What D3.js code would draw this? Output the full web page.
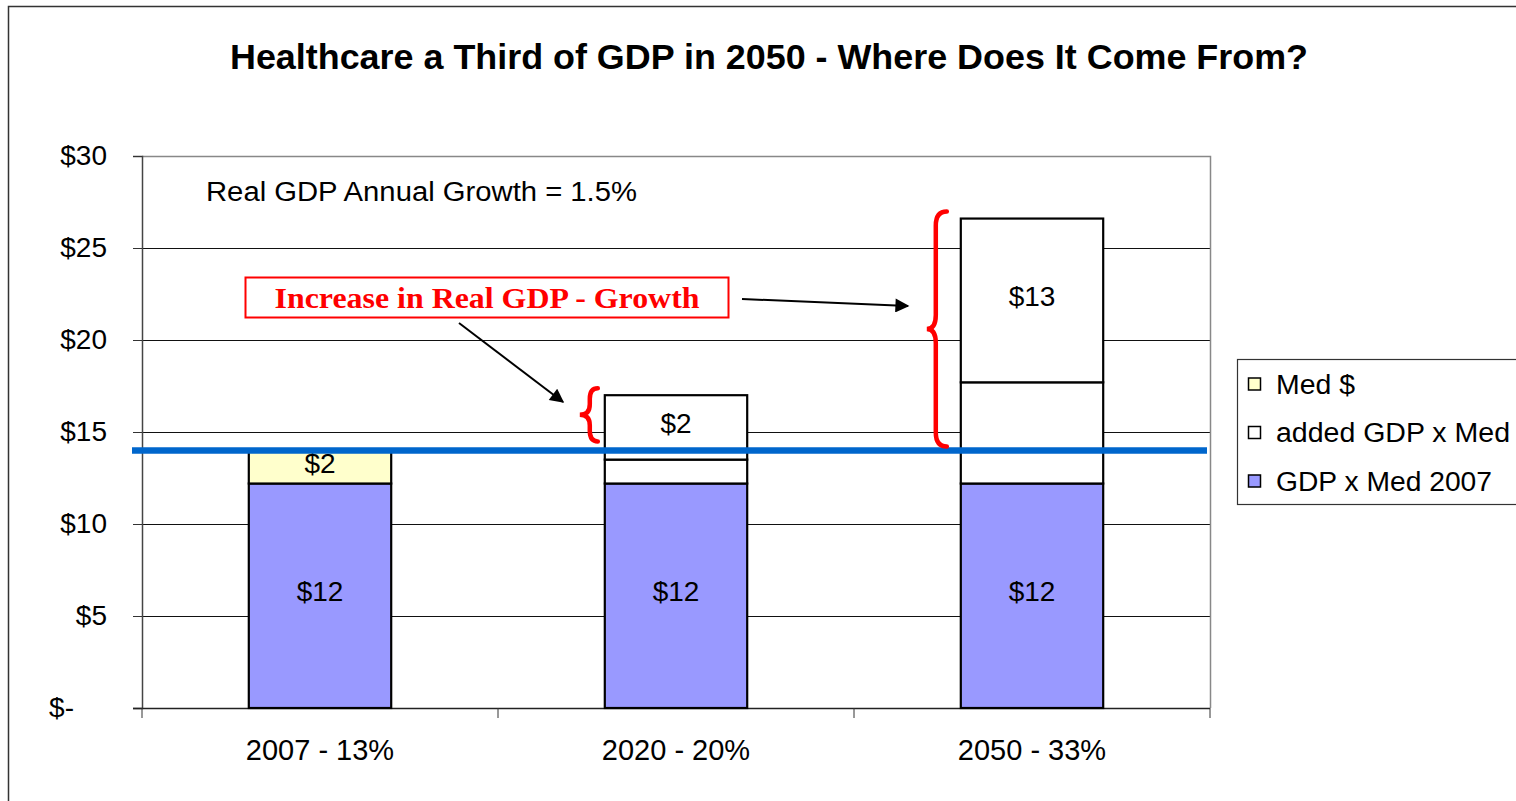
<!DOCTYPE html>
<html>
<head>
<meta charset="utf-8">
<script src="https://cdn.jsdelivr.net/npm/d3@7"></script>
<style>
  html, body { margin: 0; padding: 0; background: #fff; }
  svg { display: block; font-family: "Liberation Sans", Arial, sans-serif; }
</style>
</head>
<body>
<svg id="chart" width="1516" height="801"></svg>
<script>
// Categories and stacked series (trillions of dollars)
const categories = ["2007 - 13%", "2020 - 20%", "2050 - 33%"];
const gdpMed2007 = [12.2, 12.2, 12.2];   // GDP x Med 2007
const addedGdpMed = [0, 1.3, 5.5];       // added GDP x Med
const medDollars = [1.8, 0, 0];          // Med $
const growth = [0, 3.5, 8.9];            // increase from real GDP growth
const baseLevel = 14.0;                  // 2007 total, drawn as reference line

const segmentLabels = [
  ["$12", null, "$2", null],
  ["$12", null, null, "$2"],
  ["$12", null, null, "$13"]
];
const yTicks = [0, 5, 10, 15, 20, 25, 30];
const yTickLabels = ["$-", "$5", "$10", "$15", "$20", "$25", "$30"];

const seriesKeys = ["base", "added", "med", "growth"];
const seriesFill = { base: "#9999FF", added: "#FFFFFF", med: "#FFFFCC", growth: "#FFFFFF" };
const legendItems = [
  { name: "Med $", fill: "#FFFFCC" },
  { name: "added GDP x Med", fill: "#FFFFFF" },
  { name: "GDP x Med 2007", fill: "#9999FF" }
];

const rows = categories.map((c, i) => ({
  cat: c, base: gdpMed2007[i], added: addedGdpMed[i], med: medDollars[i], growth: growth[i]
}));

const svg = d3.select("#chart");
const plot = { left: 142, right: 1210, top: 156, bottom: 708 };

const x = d3.scaleBand().domain(categories).range([plot.left, plot.right])
  .paddingInner(0.6).paddingOuter(0.3);
const y = d3.scaleLinear().domain([0, 30]).range([plot.bottom, plot.top]);

// Outer chart frame
svg.append("path")
  .attr("d", `M8.5,801 V6.5 H1516`)
  .attr("fill", "none").attr("stroke", "#333").attr("stroke-width", 1.5);

// Title
svg.append("text")
  .attr("x", 769).attr("y", 69)
  .attr("text-anchor", "middle")
  .attr("font-size", 35).attr("font-weight", "bold")
  .attr("textLength", 1078).attr("lengthAdjust", "spacingAndGlyphs")
  .text("Healthcare a Third of GDP in 2050 - Where Does It Come From?");

// Gridlines
svg.append("g").selectAll("line")
  .data(yTicks.filter(t => t > 0 && t < 30))
  .join("line")
  .attr("x1", plot.left).attr("x2", plot.right)
  .attr("y1", d => Math.round(y(d)) + 0.5).attr("y2", d => Math.round(y(d)) + 0.5)
  .attr("stroke", "#111").attr("stroke-width", 1);

// Plot area border (top and right)
svg.append("path")
  .attr("d", `M${plot.left},${plot.top + 0.5} H${plot.right + 0.5} V${plot.bottom}`)
  .attr("fill", "none").attr("stroke", "#888").attr("stroke-width", 1.5);

// Y axis (accounting format: the zero label sits further left)
const yAxis = d3.axisLeft(y).tickValues(yTicks)
  .tickFormat((d, i) => yTickLabels[i]).tickSize(9).tickPadding(26);
const gy = svg.append("g").attr("transform", `translate(${plot.left},0)`).call(yAxis);
gy.select(".domain").attr("stroke", "#444").attr("stroke-width", 1.5);
gy.selectAll(".tick line").attr("stroke", "#333");
gy.selectAll(".tick text").attr("font-size", 28).attr("fill", "#000")
  .attr("font-family", "'Liberation Sans', Arial, sans-serif")
  .attr("dx", d => d === 0 ? -33 : 0);

// X axis (ticks at category boundaries)
const gx = svg.append("g").attr("transform", `translate(0,${plot.bottom})`);
gx.append("line").attr("x1", plot.left - 9).attr("x2", plot.right)
  .attr("y1", 0.5).attr("y2", 0.5).attr("stroke", "#222").attr("stroke-width", 1.5);
const bounds = [plot.left].concat(categories.map(c => x(c) + x.bandwidth() + x.step() * 0.3));
gx.selectAll("line.b").data(bounds).join("line").attr("class", "b")
  .attr("x1", d => d).attr("x2", d => d).attr("y1", 0).attr("y2", 10)
  .attr("stroke", "#333").attr("stroke-width", 1);
gx.selectAll("text").data(categories).join("text")
  .attr("x", d => x(d) + x.bandwidth() / 2).attr("y", 52)
  .attr("text-anchor", "middle").attr("font-size", 29)
  .text(d => d);

// Stacked bars
const stack = d3.stack().keys(seriesKeys)(rows);
const barG = svg.append("g");
stack.forEach((layer, li) => {
  barG.selectAll(null).data(layer.filter(d => d[1] - d[0] > 0)).join("rect")
    .attr("x", d => x(d.data.cat))
    .attr("y", d => y(d[1]))
    .attr("width", x.bandwidth())
    .attr("height", d => y(d[0]) - y(d[1]))
    .attr("fill", seriesFill[layer.key])
    .attr("stroke", "#000").attr("stroke-width", 2.2);
});

// Segment value labels
stack.forEach((layer, li) => {
  layer.forEach((d, ci) => {
    const lab = segmentLabels[ci][li];
    if (!lab) return;
    svg.append("text")
      .attr("x", x(d.data.cat) + x.bandwidth() / 2)
      .attr("y", (y(d[0]) + y(d[1])) / 2 - 4.5)
      .attr("dy", "0.36em")
      .attr("text-anchor", "middle").attr("font-size", 28)
      .text(lab);
  });
});

// Reference line at the 2007 total
svg.append("line")
  .attr("x1", 132).attr("x2", 1207)
  .attr("y1", y(baseLevel)).attr("y2", y(baseLevel))
  .attr("stroke", "#0066CC").attr("stroke-width", 6.5);

// Growth text
svg.append("text")
  .attr("x", 206).attr("y", 201)
  .attr("font-size", 27)
  .attr("textLength", 431).attr("lengthAdjust", "spacingAndGlyphs")
  .text("Real GDP Annual Growth = 1.5%");

// Curly braces marking the growth portion
function brace(xEnd, xStem, xTip, yTop, yBot) {
  const yMid = (yTop + yBot) / 2;
  const r = Math.min(14, (yBot - yTop) / 5);
  return `M${xEnd},${yTop} Q${xStem},${yTop} ${xStem},${yTop + r}` +
    ` L${xStem},${yMid - r} Q${xStem},${yMid} ${xTip},${yMid}` +
    ` Q${xStem},${yMid} ${xStem},${yMid + r}` +
    ` L${xStem},${yBot - r} Q${xStem},${yBot} ${xEnd},${yBot}`;
}
const braceSpans = [
  { cat: categories[1], top: rows[1].base + rows[1].added + rows[1].growth },
  { cat: categories[2], top: rows[2].base + rows[2].added + rows[2].growth }
];
braceSpans.forEach((b, i) => {
  const bx = x(b.cat);
  const xs = i === 0 ? [bx - 7, bx - 15, bx - 25] : [bx - 14, bx - 25, bx - 34];
  svg.append("path")
    .attr("d", brace(xs[0], xs[1], xs[2], y(b.top) - 7, y(baseLevel) - 9 + (i === 0 ? 0 : 5)))
    .attr("fill", "none").attr("stroke", "#FF0000").attr("stroke-width", 4.5)
    .attr("stroke-linecap", "round");
});

// Annotation box
svg.append("rect")
  .attr("x", 245.5).attr("y", 277.5).attr("width", 483).attr("height", 40)
  .attr("fill", "#fff").attr("stroke", "#FF0000").attr("stroke-width", 2);
svg.append("text")
  .attr("x", 487).attr("y", 308)
  .attr("text-anchor", "middle")
  .attr("font-family", "'Liberation Serif', 'Times New Roman', serif")
  .attr("font-weight", "bold").attr("font-size", 29).attr("fill", "#FF0000")
  .attr("textLength", 425).attr("lengthAdjust", "spacingAndGlyphs")
  .text("Increase in Real GDP - Growth");

// Arrows
const defs = svg.append("defs");
defs.append("marker").attr("id", "arrow")
  .attr("viewBox", "0 0 10 10").attr("refX", 9).attr("refY", 5)
  .attr("markerWidth", 8).attr("markerHeight", 7).attr("orient", "auto")
  .attr("markerUnits", "strokeWidth")
  .append("path").attr("d", "M0,0 L10,5 L0,10 Z").attr("fill", "#000");
svg.append("line").attr("x1", 742).attr("y1", 299).attr("x2", 908).attr("y2", 306)
  .attr("stroke", "#000").attr("stroke-width", 2).attr("marker-end", "url(#arrow)");
svg.append("line").attr("x1", 459).attr("y1", 323).attr("x2", 563).attr("y2", 402)
  .attr("stroke", "#000").attr("stroke-width", 2).attr("marker-end", "url(#arrow)");

// Legend
const lg = svg.append("g");
lg.append("rect").attr("x", 1237.5).attr("y", 359.5).attr("width", 300).attr("height", 145)
  .attr("fill", "#fff").attr("stroke", "#333").attr("stroke-width", 1.2);
const legendWidths = [79, 234, 216];
legendItems.forEach((it, i) => {
  const cy = 384 + i * 48.5;
  lg.append("rect").attr("x", 1248.5).attr("y", cy - 6).attr("width", 12).attr("height", 12)
    .attr("fill", it.fill).attr("stroke", "#000").attr("stroke-width", 1.5);
  lg.append("text").attr("x", 1276).attr("y", cy + 9.5)
    .attr("font-size", 27)
    .attr("textLength", legendWidths[i]).attr("lengthAdjust", "spacingAndGlyphs")
    .text(it.name);
});
</script>
</body>
</html>
